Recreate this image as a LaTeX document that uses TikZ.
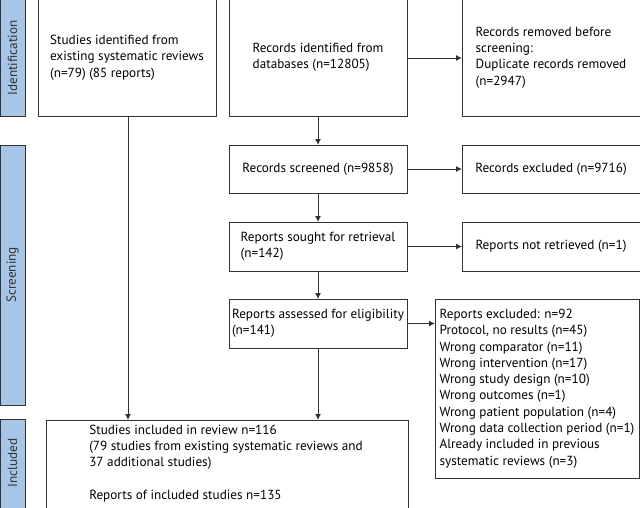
\documentclass[tikz,border=0pt]{standalone}
\usepackage{fontspec}
\setmainfont{PT Sans}
\usetikzlibrary{arrows.meta}
\definecolor{barfill}{HTML}{A7C5E6}
\definecolor{linec}{HTML}{333333}
\begin{document}
\begin{tikzpicture}[x=1pt,y=-1pt,
  box/.style={draw=linec,line width=0.9pt,fill=white},
  bar/.style={draw=linec,line width=0.9pt,fill=barfill},
  txt/.style={align=left,font=\fontsize{13.2}{16.3}\selectfont,text=black,inner sep=0pt},
  bartxt/.style={rotate=90,font=\fontsize{13.2}{16}\selectfont,text=linec,inner sep=0pt},
  arr/.style={draw=linec,line width=0.9pt,-{Latex[length=6pt,width=6pt]}},
  ln/.style={draw=linec,line width=0.9pt}]
\useasboundingbox (0,0) rectangle (640,507);
% side bars
\draw[bar] (0,-1) rectangle (25,116);
\node[bartxt] (lid) at (12.5,58) {Identification};
\draw[bar] (0,145) rectangle (25,405);
\node[bartxt] (lsc) at (12.5,275) {Screening};
\draw[bar] (0,419) rectangle (25,508);
\node[bartxt] (lin) at (12.5,463) {Included};
% boxes
\draw[box] (38,-1) rectangle (216,116);
\node[txt] (b1) at (127,57.5) {Studies identified from\\existing systematic reviews\\(n=79) (85 reports)};
\draw[box] (229,-1) rectangle (407,116);
\node[txt] (b2) at (318,57.5) {Records identified from\\databases (n=12805)};
\draw[box] (462,-1) rectangle (641,116);
\node[txt] (b3) at (551,57.5) {Records removed before\\screening:\\Duplicate records removed\\(n=2947)};
\draw[box] (229,145) rectangle (407,193);
\node[txt] (b4) at (318,169) {Records screened (n=9858)};
\draw[box] (462,145) rectangle (641,193);
\node[txt] (b5) at (551,169) {Records excluded (n=9716)};
\draw[box] (229,222) rectangle (407,271);
\node[txt] (b6) at (318,246.5) {Reports sought for retrieval\\(n=142)};
\draw[box] (462,222) rectangle (641,271);
\node[txt] (b7) at (551,246.5) {Reports not retrieved (n=1)};
\draw[box] (229,299) rectangle (407,348);
\node[txt] (b8) at (318,323.5) {Reports assessed for eligibility\\(n=141)};
\draw[box] (435,299) rectangle (639,478);
\node[txt] (b9) at (537,388.5) {Reports excluded: n=92\\Protocol, no results (n=45)\\Wrong comparator (n=11)\\Wrong intervention (n=17)\\Wrong study design (n=10)\\Wrong outcomes (n=1)\\Wrong patient population (n=4)\\Wrong data collection period (n=1)\\Already included in previous\\systematic reviews (n=3)};
\draw[box] (46,420) rectangle (408,508);
\node[txt] (b10) at (226,463.5) {Studies included in review n=116\\(79 studies from existing systematic reviews and\\37 additional studies)\\[16.3pt]Reports of included studies n=135};
% coordinates
\coordinate (c2b) at (318,116);
\coordinate (c4t) at (318,145);
\coordinate (c4b) at (318,193);
\coordinate (c6t) at (318,222);
\coordinate (c6b) at (318,271);
\coordinate (c8t) at (318,299);
\coordinate (c8b) at (318,348);
\coordinate (c10t) at (318,420);
\coordinate (c1b) at (128,116);
\coordinate (c10l) at (128,420);
\coordinate (e2) at (407,58);
\coordinate (e3) at (462,58);
\coordinate (e4) at (407,169);
\coordinate (e5) at (462,169);
\coordinate (e6) at (407,246.5);
\coordinate (e7) at (462,246.5);
\coordinate (e8) at (407,323.5);
\coordinate (e9) at (435,323.5);
% arrows
\draw[arr] (c2b) -- (c4t);
\draw[arr] (c4b) -- (c6t);
\draw[arr] (c6b) -- (c8t);
\draw[arr] (c8b) -- (c10t);
\draw[arr] (c1b) -- (c10l);
\draw[arr] (e2) -- (e3);
\draw[arr] (e4) -- (e5);
\draw[arr] (e6) -- (e7);
\draw[arr] (e8) -- (e9);
\end{tikzpicture}
\end{document}
